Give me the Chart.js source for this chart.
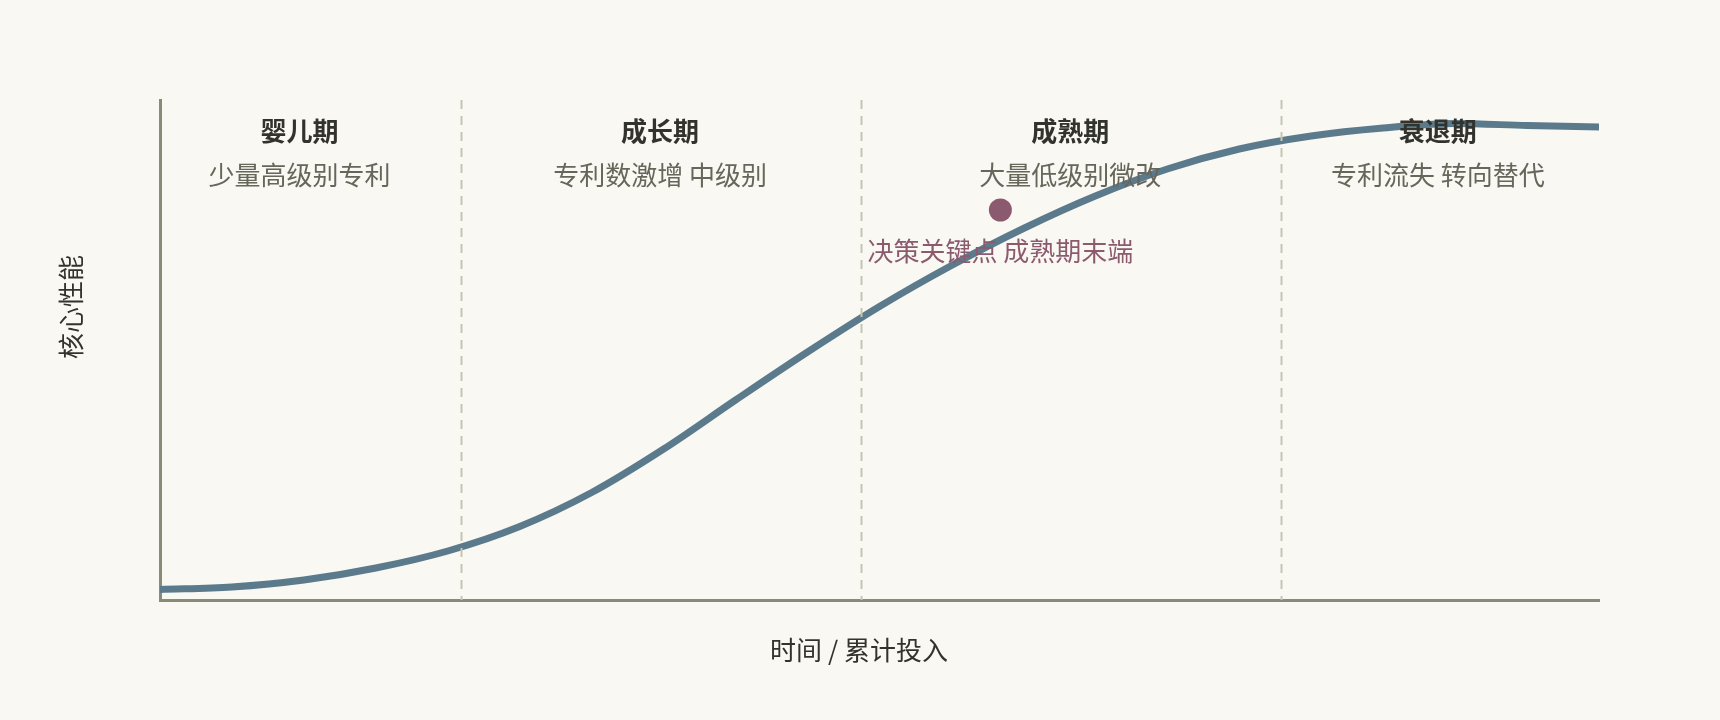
<!DOCTYPE html>
<html>
<head>
<meta charset="utf-8">
<title>技术生命周期</title>
<script src="https://cdn.jsdelivr.net/npm/chart.js@4.4.1/dist/chart.umd.min.js"></script>
<style>
    html, body { margin: 0; padding: 0; background: #f9f8f3; }
    canvas { display: block; }
</style>
</head>
<body>
<canvas id="lifecycleChart" width="1720" height="720"></canvas>
<script>
// S-curve: time / cumulative investment vs. core performance
const timeInput = [0, 5, 10, 15, 20, 25, 30, 35, 40, 45, 50, 55, 60, 65, 70, 75, 80, 85, 90, 95, 100];
const corePerformance = [2.1, 2.6, 4.0, 6.4, 9.8, 14.7, 21.5, 30.2, 40.0, 49.6, 58.7, 66.9, 74.3, 80.8, 86.2, 90.2, 92.8, 94.4, 95.3, 94.9, 94.6];

// phases
const phaseBounds = [20.9, 48.7, 77.9];
const phaseNames = ['婴儿期', '成长期', '成熟期', '衰退期'];
const phaseNotes = ['少量高级别专利', '专利数激增 中级别', '大量低级别微改', '专利流失 转向替代'];
const phaseLabelX = [9.7, 34.75, 63.25, 88.8];
const phaseTitleY = 93.8;
const phaseNoteY = 84.9;

// decision point
const keyPointX = [58.4];
const keyPointY = [78];
const keyPointLabel = '决策关键点 成熟期末端';
const keyLabelY = 69.7;

// axis titles
const xAxisTitle = '时间 / 累计投入';
const yAxisTitle = '核心性能';

const FONT = '"Noto Sans CJK SC", "Noto Sans", sans-serif';
const AXIS_COLOR = '#8a8a78';
const CURVE_COLOR = '#5b7a8c';
const KEY_COLOR = '#8b5a6e';
const TEXT_DARK = '#33332e';

const phasePlugin = {
    id: 'phasePlugin',
    afterDatasetsDraw(chart) {
        const ctx = chart.ctx;
        const xs = chart.scales.x;
        const ys = chart.scales.y;
        const area = chart.chartArea;

        ctx.save();
        ctx.strokeStyle = '#c5c5b3';
        ctx.lineWidth = 2;
        ctx.setLineDash([9, 7]);
        phaseBounds.forEach(b => {
            const px = Math.round(xs.getPixelForValue(b)) + 0.5;
            ctx.beginPath();
            ctx.moveTo(px, area.top);
            ctx.lineTo(px, area.bottom);
            ctx.stroke();
        });
        ctx.setLineDash([]);

        ctx.textAlign = 'center';
        ctx.textBaseline = 'middle';
        phaseNames.forEach((name, i) => {
            const px = xs.getPixelForValue(phaseLabelX[i]);
            ctx.font = 'bold 26px ' + FONT;
            ctx.fillStyle = TEXT_DARK;
            ctx.fillText(name, px, ys.getPixelForValue(phaseTitleY));
            ctx.font = '26px ' + FONT;
            ctx.fillStyle = '#66665a';
            ctx.fillText(phaseNotes[i], px, ys.getPixelForValue(phaseNoteY));
        });

        ctx.font = '26px ' + FONT;
        ctx.fillStyle = KEY_COLOR;
        ctx.fillText(keyPointLabel, xs.getPixelForValue(keyPointX[0]), ys.getPixelForValue(keyLabelY));

        // axis titles (sit off-centre in the original)
        ctx.fillStyle = TEXT_DARK;
        ctx.fillText(xAxisTitle, area.left + 699, area.bottom + 50);
        ctx.translate(71.5, area.top + 207);
        ctx.rotate(-Math.PI / 2);
        ctx.fillText(yAxisTitle, 0, 0);
        ctx.restore();
    }
};

const bgPlugin = {
    id: 'bgPlugin',
    beforeDraw(chart) {
        const ctx = chart.ctx;
        ctx.save();
        ctx.fillStyle = '#f9f8f3';
        ctx.fillRect(0, 0, chart.width, chart.height);
        ctx.restore();
    }
};

document.addEventListener('DOMContentLoaded', function() {
    const ctx = document.getElementById('lifecycleChart');
    new Chart(ctx, {
        type: 'line',
        data: {
            datasets: [
                {
                    label: yAxisTitle,
                    data: timeInput.map((t, i) => ({ x: t, y: corePerformance[i] })),
                    borderColor: CURVE_COLOR,
                    borderWidth: 7,
                    pointRadius: 0,
                    fill: false,
                    cubicInterpolationMode: 'monotone'
                },
                {
                    label: '决策关键点',
                    data: keyPointX.map((x, i) => ({ x: x, y: keyPointY[i] })),
                    showLine: false,
                    pointRadius: 11.5,
                    pointBackgroundColor: KEY_COLOR,
                    pointBorderWidth: 0
                }
            ]
        },
        options: {
            responsive: false,
            animation: false,
            devicePixelRatio: 1,
            layout: { padding: { left: 160, right: 121, top: 100, bottom: 120 } },
            plugins: {
                legend: { display: false },
                tooltip: { enabled: false }
            },
            scales: {
                x: {
                    type: 'linear',
                    min: 0,
                    max: 100,
                    ticks: { display: false },
                    grid: { display: false, drawTicks: false },
                    border: { display: true, color: AXIS_COLOR, width: 3 }
                },
                y: {
                    type: 'linear',
                    min: 0,
                    max: 100,
                    ticks: { display: false },
                    grid: { display: false, drawTicks: false },
                    border: { display: true, color: AXIS_COLOR, width: 3 }
                }
            }
        },
        plugins: [bgPlugin, phasePlugin]
    });
});
</script>
</body>
</html>
